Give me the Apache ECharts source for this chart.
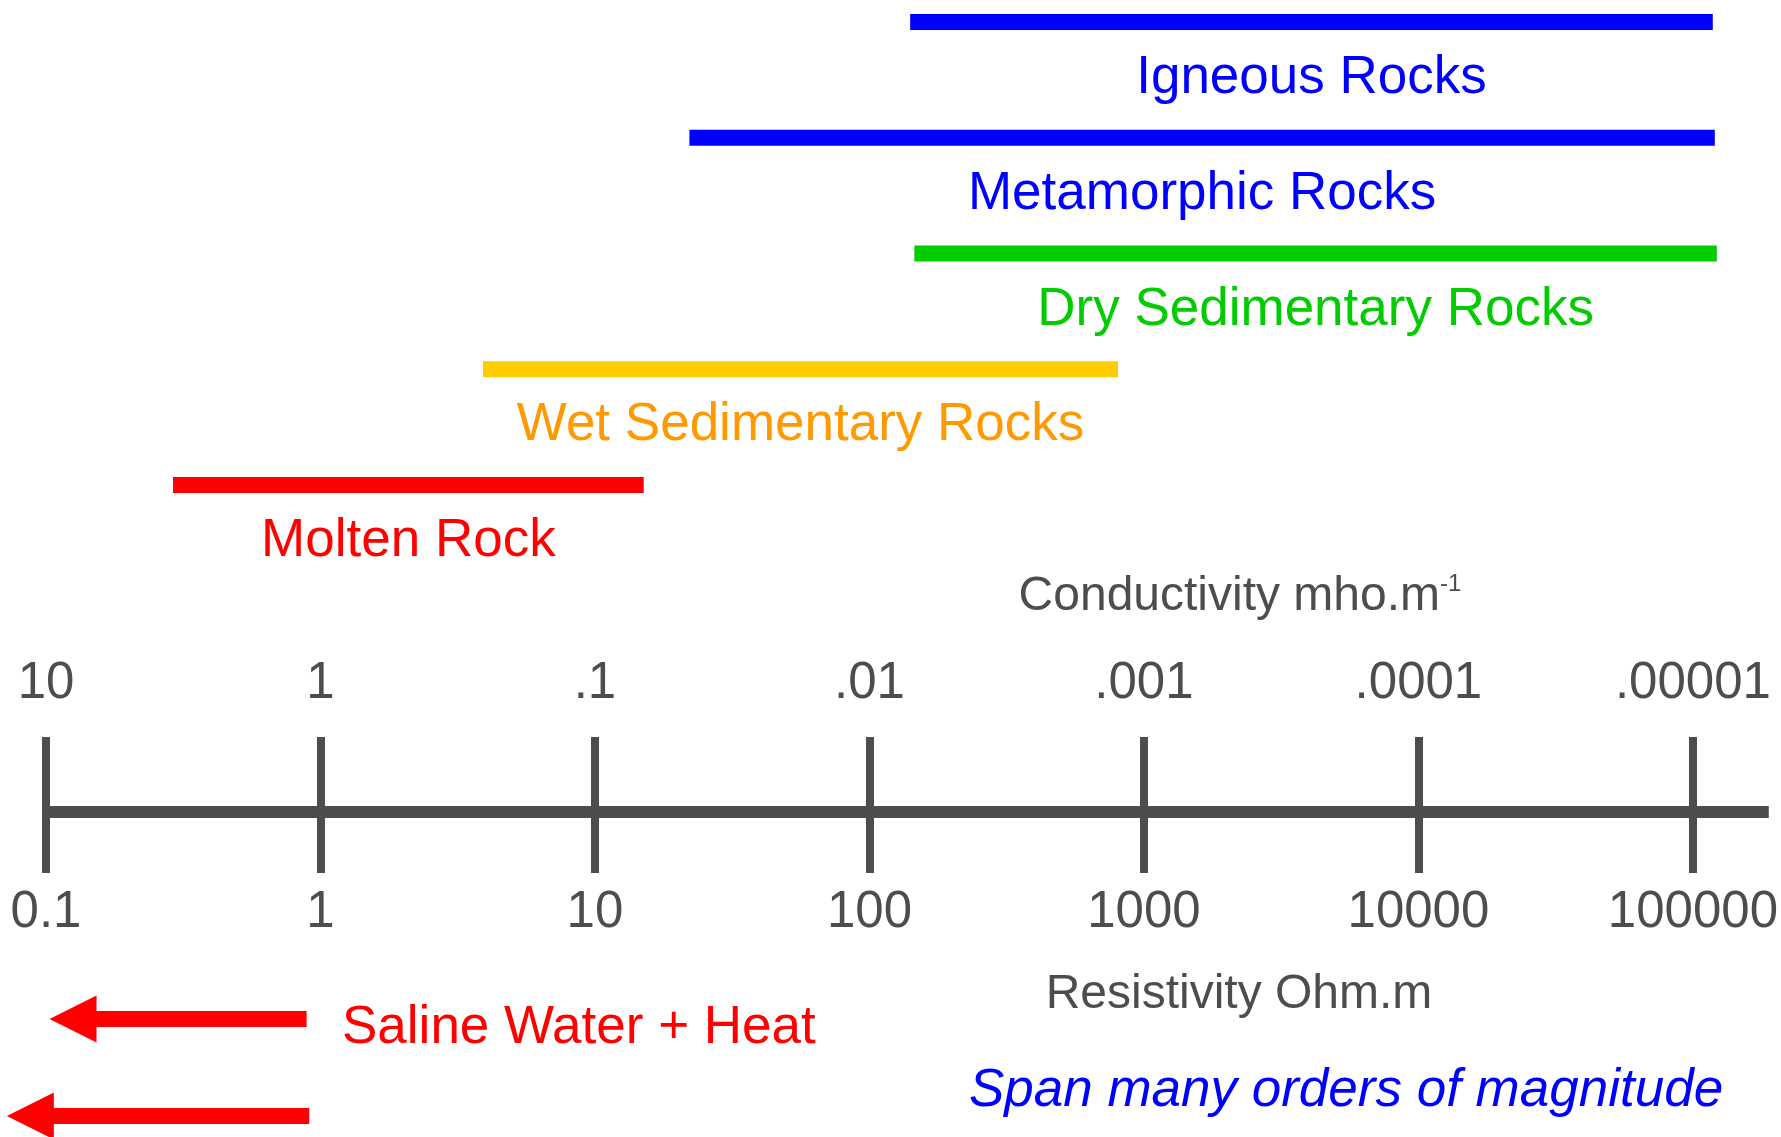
<!DOCTYPE html>
<html>
<head>
    <meta charset="UTF-8">
    <title>Resistivity of rocks</title>
    <script src="https://cdn.jsdelivr.net/npm/echarts@6/dist/echarts.min.js"></script>
    <style>
        html, body { margin: 0; padding: 0; background: #fff; }
    </style>
</head>
<body>
<div id="chart" style="width:1781px; height:1137px;"></div>
<script>
    // rock types, top row first
    var rockNames = ['Igneous Rocks', 'Metamorphic Rocks', 'Dry Sedimentary Rocks', 'Wet Sedimentary Rocks', 'Molten Rock'];
    // resistivity range of each rock type (Ohm.m)
    var rockMin = [140, 22, 145, 3.9, 0.29];
    var rockMax = [117000, 119000, 121000, 800, 15];

    // scale ticks (resistivity) and the two rows of labels
    var tickValues = [0.1, 1, 10, 100, 1000, 10000, 100000];
    var resistivityLabels = ['0.1', '1', '10', '100', '1000', '10000', '100000'];
    var conductivityLabels = ['10', '1', '.1', '.01', '.001', '.0001', '.00001'];

    // arrows pointing to low resistivity: start / tip (Ohm.m)
    var arrowFrom = [0.89, 0.91];
    var arrowTo = [0.103, 0.072];

    var FONT = '"Liberation Sans", Arial, sans-serif';
    var GRAY = '#4d4d4d';
    var barColors = ['#0000ff', '#0000ff', '#00cc00', '#ffcc00', '#ff0000'];
    var textColors = ['#0000ff', '#0000ff', '#00cc00', '#ff9900', '#ff0000'];
    var arrowRowY = [1019, 1116];   // layout only
    var AX_MIN = 0.1, AX_MAX = 189000;

    function labelFor(v, labels) {
        for (var i = 0; i < tickValues.length; i++) {
            if (Math.abs(Math.log10(v) - Math.log10(tickValues[i])) < 1e-6) return labels[i];
        }
        return '';
    }

    var chart = echarts.init(document.getElementById('chart'), null, {renderer: 'canvas'});

    var option = {
        animation: false,
        grid: [
            {left: 46, right: 11, top: 22, height: 463},
            {left: 46, right: 11, top: 737, height: 75}
        ],
        xAxis: [
            {gridIndex: 0, type: 'log', logBase: 10, min: AX_MIN, max: AX_MAX, show: false},
            {
                gridIndex: 1, type: 'log', logBase: 10, min: AX_MIN, max: AX_MAX, position: 'bottom',
                axisLine: {show: true, onZero: false, lineStyle: {color: GRAY, width: 12, cap: 'butt'}},
                axisTick: {show: true, inside: false, length: 61, customValues: tickValues,
                    lineStyle: {color: GRAY, width: 8}},
                axisLabel: {show: true, customValues: tickValues, margin: 75, color: GRAY,
                    fontSize: 51, fontFamily: FONT,
                    formatter: function (v) { return labelFor(v, resistivityLabels); }},
                splitLine: {show: false},
                minorTick: {show: false}
            },
            {
                gridIndex: 1, type: 'log', logBase: 10, min: AX_MIN, max: AX_MAX, position: 'top',
                axisLine: {show: false, onZero: false},
                axisTick: {show: true, inside: true, length: 75, customValues: tickValues,
                    lineStyle: {color: GRAY, width: 8}},
                axisLabel: {show: true, customValues: tickValues, margin: 27.5, color: GRAY,
                    fontSize: 51, fontFamily: FONT,
                    formatter: function (v) { return labelFor(v, conductivityLabels); }},
                splitLine: {show: false},
                minorTick: {show: false}
            }
        ],
        yAxis: [
            {gridIndex: 0, type: 'category', data: rockNames, inverse: true, boundaryGap: false, show: false},
            {gridIndex: 1, type: 'value', min: 0, max: 1, show: false}
        ],
        graphic: [
            {
                type: 'text', x: 1240, y: 596.5,
                style: {
                    text: '{a|Conductivity mho.m}{b|-1}',
                    fill: GRAY, fontFamily: FONT, align: 'center', verticalAlign: 'middle',
                    rich: {
                        a: {fontSize: 48, fontFamily: FONT, fill: GRAY},
                        b: {fontSize: 24, fontFamily: FONT, fill: GRAY, verticalAlign: 'top'}
                    }
                }
            },
            {
                type: 'text', x: 1239, y: 994.5,
                style: {text: 'Resistivity Ohm.m', fill: GRAY, fontSize: 48, fontFamily: FONT,
                    align: 'center', verticalAlign: 'middle'}
            },
            {
                type: 'text', x: 342, y: 1028,
                style: {text: 'Saline Water + Heat', fill: '#ff0000', fontSize: 53, fontFamily: FONT,
                    align: 'left', verticalAlign: 'middle'}
            },
            {
                type: 'text', x: 1346, y: 1091.5,
                style: {text: 'Span many orders of magnitude', fill: '#0000ff', fontSize: 53,
                    fontStyle: 'italic', fontFamily: FONT, align: 'center', verticalAlign: 'middle'}
            }
        ],
        series: [
            {
                type: 'custom',
                xAxisIndex: 0, yAxisIndex: 0,
                data: rockNames.map(function (n, i) { return [rockMin[i], rockMax[i], i]; }),
                encode: {x: [0, 1], y: 2},
                renderItem: function (params, api) {
                    var row = api.value(2);
                    var p0 = api.coord([api.value(0), row]);
                    var p1 = api.coord([api.value(1), row]);
                    var i = params.dataIndex;
                    return {
                        type: 'group',
                        children: [
                            {type: 'rect', shape: {x: p0[0], y: p0[1] - 8, width: p1[0] - p0[0], height: 16},
                                style: {fill: barColors[i]}},
                            {type: 'text', x: (p0[0] + p1[0]) / 2, y: p0[1] + 56.5,
                                style: {text: rockNames[i], fill: textColors[i], fontSize: 53,
                                    fontFamily: FONT, align: 'center', verticalAlign: 'middle'}}
                        ]
                    };
                }
            },
            {
                type: 'custom',
                xAxisIndex: 1, yAxisIndex: 1,
                clip: false,
                data: arrowFrom.map(function (f, i) { return [f, arrowTo[i]]; }),
                encode: {x: [0, 1]},
                renderItem: function (params, api) {
                    var xs = api.coord([api.value(0), 0])[0];
                    var xt = api.coord([api.value(1), 0])[0];
                    var y = arrowRowY[params.dataIndex];
                    var xb = xt + 47;
                    return {
                        type: 'polygon',
                        shape: {points: [[xs, y - 8], [xb, y - 8], [xb, y - 23.5], [xt, y],
                            [xb, y + 23.5], [xb, y + 8], [xs, y + 8]]},
                        style: {fill: '#ff0000'}
                    };
                }
            }
        ]
    };
    chart.setOption(option);
</script>
</body>
</html>
